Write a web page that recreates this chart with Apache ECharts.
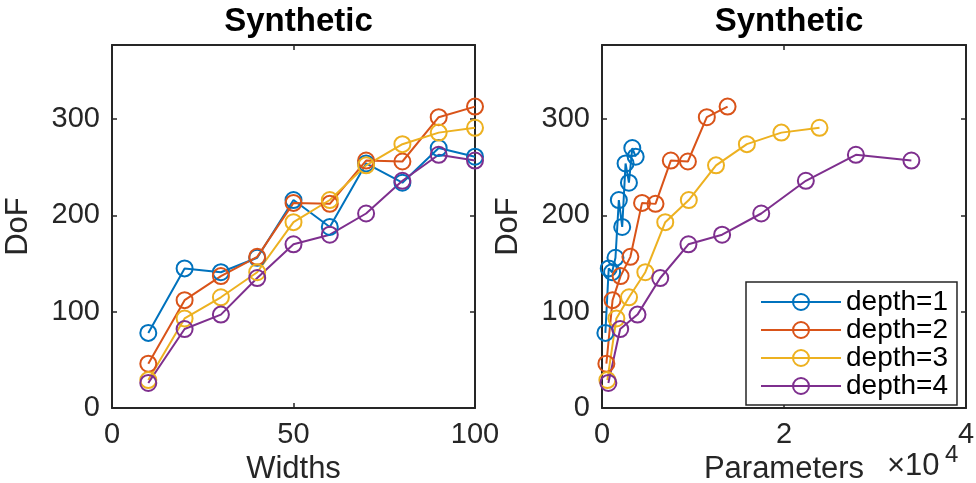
<!DOCTYPE html>
<html>
<head>
<meta charset="utf-8">
<script src="https://cdn.jsdelivr.net/npm/echarts@6/dist/echarts.min.js"></script>
<style>html,body{margin:0;padding:0;background:#fff}#c{width:976px;height:483px}</style>
</head>
<body>
<div id="c"></div>
<script>
// ---- data ----
const widths = [10, 20, 30, 40, 50, 60, 70, 80, 90, 100];
const dof1 = [78, 145, 141, 156, 216, 188, 254, 234, 270, 261];
const dof2 = [46, 112, 137, 157, 213, 212, 257, 256, 302, 313];
const dof3 = [29, 93, 115, 141, 193, 216, 252, 274, 286, 291];
const dof4 = [26, 82, 97, 135, 170, 180, 202, 236, 263, 257];
const params1 = [370, 740, 1110, 1480, 1850, 2220, 2590, 2960, 3330, 3700];
const params2 = [480, 1160, 2040, 3120, 4400, 5880, 7560, 9440, 11520, 13800];
const params3 = [590, 1580, 2970, 4760, 6950, 9540, 12530, 15920, 19710, 23900];
const params4 = [700, 2000, 3900, 6400, 9500, 13200, 17500, 22400, 27900, 34000];
const seriesNames = ['depth=1', 'depth=2', 'depth=3', 'depth=4'];
const leftXTicks = [0, 50, 100];
const rightXTicks = [0, 2, 4];
const yTicks = [0, 100, 200, 300];
const titleText = 'Synthetic';

const colors = ['#0072BD', '#D95319', '#EDB120', '#7E2F8E'];
const FONT = '"Liberation Sans", Arial, Helvetica, sans-serif';
const AX = '#262626';

const chart = echarts.init(document.getElementById('c'), null, {renderer: 'canvas'});

const grids = [
  {left: 112, top: 45, width: 363, height: 363, containLabel: false, outerBoundsMode: 'none'},
  {left: 602, top: 45, width: 364, height: 363, containLabel: false, outerBoundsMode: 'none'}
];

function xAx(gi, pos, max, interval, showLabel, fmt, name) {
  return {
    type: 'value', gridIndex: gi, position: pos, min: 0, max: max, interval: interval,
    axisLine: {show: true, onZero: false, lineStyle: {color: AX, width: 2}},
    axisTick: {show: true, inside: true, length: 5, lineStyle: {color: AX, width: 1.5}},
    splitLine: {show: false},
    axisLabel: {show: showLabel, fontSize: 29, fontFamily: FONT, color: AX, margin: 12, formatter: fmt},
    name: name || '', nameLocation: 'middle', nameGap: 44,
    nameTextStyle: {fontSize: 31, fontFamily: FONT, color: AX}
  };
}
function yAx(gi, pos, showLabel, name) {
  return {
    type: 'value', gridIndex: gi, position: pos, min: 0, max: 377, interval: 100,
    axisLine: {show: true, onZero: false, lineStyle: {color: AX, width: 2}},
    axisTick: {show: true, inside: true, length: 5, lineStyle: {color: AX, width: 1.5}},
    splitLine: {show: false},
    axisLabel: {show: showLabel, fontSize: 29, fontFamily: FONT, color: AX, margin: 12, showMaxLabel: false,
      formatter: v => yTicks.includes(v) ? String(v) : ''},
    name: name || '', nameLocation: 'middle', nameGap: 78, nameRotate: 90,
    nameTextStyle: {fontSize: 31, fontFamily: FONT, color: AX}
  };
}

const xAxis = [
  xAx(0, 'bottom', 100, 50, true, v => leftXTicks.includes(v) ? String(v) : '', 'Widths'),
  xAx(1, 'bottom', 40000, 20000, true, v => rightXTicks.includes(v / 10000) ? String(v / 10000) : '', 'Parameters'),
  xAx(0, 'top', 100, 50, false),
  xAx(1, 'top', 40000, 20000, false)
];
const yAxis = [
  yAx(0, 'left', true, 'DoF'),
  yAx(1, 'left', true, 'DoF'),
  yAx(0, 'right', false),
  yAx(1, 'right', false)
];

const dofs = [dof1, dof2, dof3, dof4];
const params = [params1, params2, params3, params4];
const series = [];
function mk(name, color, data, xi, yi) {
  return {
    name: name, type: 'line', xAxisIndex: xi, yAxisIndex: yi, data: data,
    symbol: 'circle', symbolSize: 16, showSymbol: true,
    lineStyle: {color: color, width: 2},
    itemStyle: {color: '#ffffff00', borderColor: color, borderWidth: 2},
    emphasis: {disabled: true}, animation: false, z: 3
  };
}
for (let i = 0; i < 4; i++) {
  series.push(mk(seriesNames[i], colors[i], widths.map((w, k) => [w, dofs[i][k]]), 0, 0));
}
for (let i = 0; i < 4; i++) {
  series.push(mk(seriesNames[i], colors[i], params[i].map((p, k) => [p, dofs[i][k]]), 1, 1));
}

chart.setOption({
  animation: false,
  backgroundColor: '#ffffff',
  title: [
    {text: titleText, left: 293.5, top: 0, textAlign: 'center',
      textStyle: {fontSize: 33, fontWeight: 'bold', fontFamily: FONT, color: '#000'}},
    {text: titleText, left: 784, top: 0, textAlign: 'center',
      textStyle: {fontSize: 33, fontWeight: 'bold', fontFamily: FONT, color: '#000'}}
  ],
  grid: grids,
  xAxis: xAxis,
  yAxis: yAxis,
  legend: {
    data: seriesNames, orient: 'vertical', left: 746, top: 282, z: 10,
    padding: [6, 9, 5, 14], itemWidth: 80, itemHeight: 20, itemGap: 0,
    backgroundColor: '#fff', borderColor: AX, borderWidth: 1.5,
    textStyle: {fontSize: 28, lineHeight: 27.5, fontFamily: FONT, color: '#000'},
    selectedMode: false
  },
  graphic: [
    {type: 'text', left: 887, top: 451, style: {text: '×10', fontSize: 31, fontFamily: FONT, fill: AX}},
    {type: 'text', left: 945, top: 443, style: {text: '4', fontSize: 24, fontFamily: FONT, fill: AX}}
  ],
  series: series
});
</script>
</body>
</html>
